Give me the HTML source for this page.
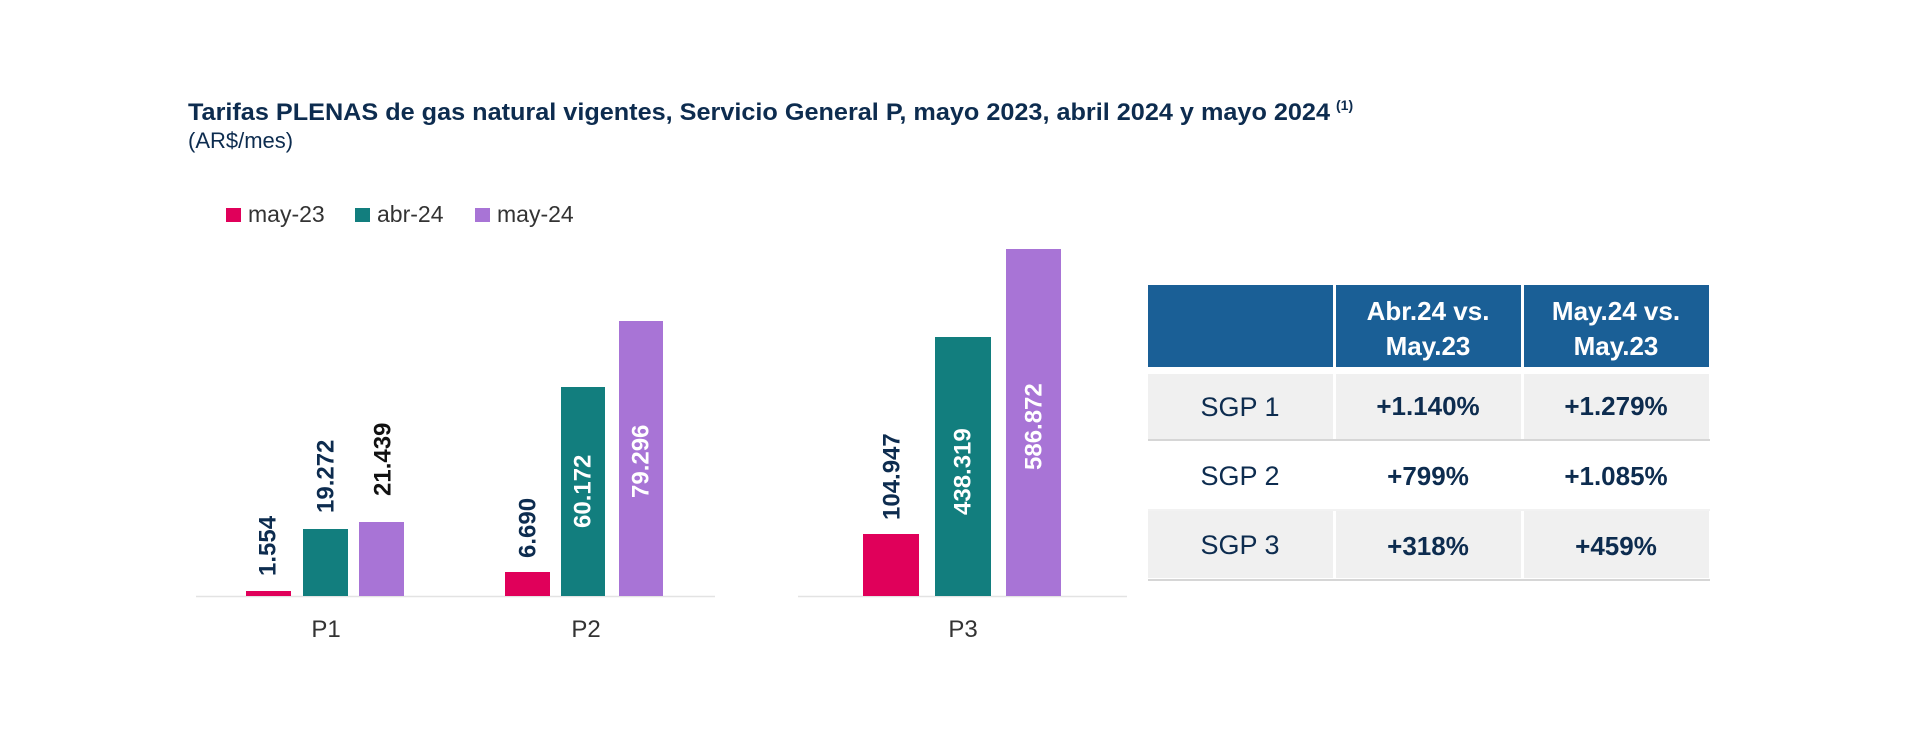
<!DOCTYPE html>
<html><head><meta charset="utf-8"><style>
html,body{margin:0;padding:0;background:#fff;}
svg{display:block;}
text{font-family:"Liberation Sans",sans-serif;}
</style></head><body>
<svg width="1920" height="742" viewBox="0 0 1920 742">
<text x="188" y="120" font-size="24" font-weight="bold" fill="#0d2c4f" textLength="1142" lengthAdjust="spacingAndGlyphs">Tarifas PLENAS de gas natural vigentes, Servicio General P, mayo 2023, abril 2024 y mayo 2024</text>
<text x="1336" y="110" font-size="14" font-weight="bold" fill="#0d2c4f">(1)</text>
<text x="188" y="148" font-size="22" fill="#0d2c4f">(AR$/mes)</text>

<rect x="226" y="208" width="15" height="14" fill="#e0005a"/>
<text x="248" y="222" font-size="23" fill="#333">may-23</text>
<rect x="355" y="208" width="15" height="14" fill="#127e7e"/>
<text x="377" y="222" font-size="23" fill="#333">abr-24</text>
<rect x="475" y="208" width="15" height="14" fill="#a874d6"/>
<text x="497" y="222" font-size="23" fill="#333">may-24</text>

<line x1="196" y1="596.5" x2="715" y2="596.5" stroke="#e3e3e3" stroke-width="1.5"/>
<line x1="798" y1="596.5" x2="1127" y2="596.5" stroke="#e3e3e3" stroke-width="1.5"/>

<rect x="246" y="591" width="45" height="5" fill="#e0005a"/>
<rect x="303" y="529" width="45" height="67" fill="#127e7e"/>
<rect x="359" y="522" width="45" height="74" fill="#a874d6"/>
<rect x="505" y="572" width="45" height="24" fill="#e0005a"/>
<rect x="561" y="387" width="44" height="209" fill="#127e7e"/>
<rect x="619" y="321" width="44" height="275" fill="#a874d6"/>
<rect x="863" y="534" width="56" height="62" fill="#e0005a"/>
<rect x="935" y="337" width="56" height="259" fill="#127e7e"/>
<rect x="1006" y="249" width="55" height="347" fill="#a874d6"/>

<g font-size="24" font-weight="bold">
<text transform="translate(268,576) rotate(-90)" dominant-baseline="central" fill="#0d2c4f">1.554</text>
<text transform="translate(326,513) rotate(-90)" dominant-baseline="central" fill="#0d2c4f">19.272</text>
<text transform="translate(383,496) rotate(-90)" dominant-baseline="central" fill="#111">21.439</text>
<text transform="translate(528,558) rotate(-90)" dominant-baseline="central" fill="#0d2c4f">6.690</text>
<text transform="translate(583,528) rotate(-90)" dominant-baseline="central" fill="#fff">60.172</text>
<text transform="translate(641,498) rotate(-90)" dominant-baseline="central" fill="#fff">79.296</text>
<text transform="translate(892,520) rotate(-90)" dominant-baseline="central" fill="#0d2c4f">104.947</text>
<text transform="translate(963,515) rotate(-90)" dominant-baseline="central" fill="#fff">438.319</text>
<text transform="translate(1034,470) rotate(-90)" dominant-baseline="central" fill="#fff">586.872</text>
</g>

<g font-size="24" fill="#333" text-anchor="middle">
<text x="326" y="637">P1</text>
<text x="586" y="637">P2</text>
<text x="963" y="637">P3</text>
</g>

<rect x="1148" y="285" width="185" height="82" fill="#1a5f96"/>
<rect x="1336" y="285" width="185" height="82" fill="#1a5f96"/>
<rect x="1524" y="285" width="185" height="82" fill="#1a5f96"/>
<g font-size="26" font-weight="bold" fill="#fff" text-anchor="middle">
<text x="1428" y="320">Abr.24 vs.</text><text x="1428" y="355">May.23</text>
<text x="1616" y="320">May.24 vs.</text><text x="1616" y="355">May.23</text>
</g>
<rect x="1148" y="374" width="185" height="65" fill="#f0f0f0"/>
<rect x="1336" y="374" width="185" height="65" fill="#f0f0f0"/>
<rect x="1524" y="374" width="185" height="65" fill="#f0f0f0"/>
<rect x="1148" y="511" width="185" height="67" fill="#f0f0f0"/>
<rect x="1336" y="511" width="185" height="67" fill="#f0f0f0"/>
<rect x="1524" y="511" width="185" height="67" fill="#f0f0f0"/>
<line x1="1148" y1="440" x2="1710" y2="440" stroke="#d6d6d6" stroke-width="2"/>
<line x1="1148" y1="510" x2="1710" y2="510" stroke="#e6e6e6" stroke-width="1"/>
<line x1="1148" y1="580" x2="1710" y2="580" stroke="#d6d6d6" stroke-width="2"/>
<g font-size="27" fill="#0d2c4f" text-anchor="middle">
<text x="1240" y="416">SGP 1</text>
<text x="1240" y="485">SGP 2</text>
<text x="1240" y="554">SGP 3</text>
</g>
<g font-size="26" font-weight="bold" fill="#0d2c4f" text-anchor="middle">
<text x="1428" y="415">+1.140%</text>
<text x="1616" y="415">+1.279%</text>
<text x="1428" y="485">+799%</text>
<text x="1616" y="485">+1.085%</text>
<text x="1428" y="555">+318%</text>
<text x="1616" y="555">+459%</text>
</g>
</svg>
</body></html>
